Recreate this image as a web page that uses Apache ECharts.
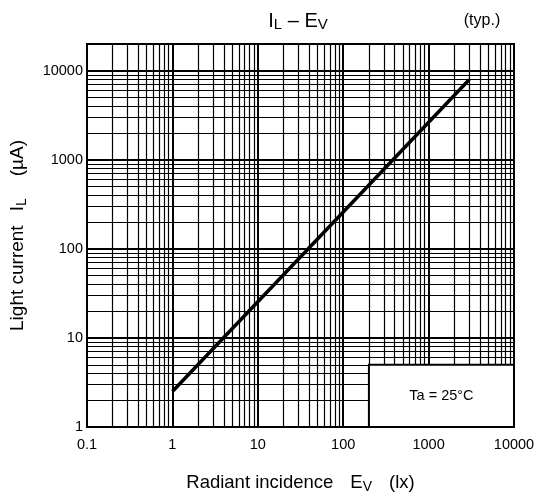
<!DOCTYPE html>
<html><head><meta charset="utf-8">
<script src="https://cdn.jsdelivr.net/npm/echarts@6/dist/echarts.min.js"></script>
<style>html,body{margin:0;padding:0;background:#fff}#c{width:538px;height:499px}</style>
</head><body><div id="c"></div>
<script>
// ---- data ----
const xTickLabels = [0.1, 1, 10, 100, 1000, 10000];
const yTickLabels = [1, 10, 100, 1000, 10000];
const xDecades = [0.1, 1, 10, 100, 1000];
const yDecades = [1, 10, 100, 1000, 10000];
const minorMultiples = [2, 3, 4, 5, 6, 7, 8, 9];
const illuminance = [1, 3000];        // Ev (lx)
const lightCurrent = [2.5, 8000];     // IL (uA)
const noteBoxX = [200, 10000];
const noteBoxY = [1, 5];
const noteText = 'Ta = 25°C';

// ---- build ----
const FONT = "'Liberation Sans', Arial, sans-serif";
const xMinor = [], yMinor = [];
xDecades.forEach(d => minorMultiples.forEach(m => xMinor.push({ xAxis: +(d * m).toPrecision(6) })));
yDecades.forEach(d => minorMultiples.forEach(m => { const v = d * m; if (v < 20000) yMinor.push({ yAxis: v }); }));
const lineData = illuminance.map((x, i) => [x, lightCurrent[i]]);
function fmt(list) {
  return v => {
    for (const t of list) if (Math.abs(Math.log10(v) - Math.log10(t)) < 1e-6) return String(t);
    return '';
  };
}
const chart = echarts.init(document.getElementById('c'), null, { renderer: 'canvas' });
chart.setOption({
  animation: false,
  backgroundColor: '#fff',
  textStyle: { fontFamily: FONT, color: '#000' },
  grid: { left: 87, right: 24, top: 44, bottom: 71, show: true, borderColor: '#000', borderWidth: 2, backgroundColor: '#fff' },
  xAxis: {
    type: 'log', logBase: 10, min: 0.1, max: 10000,
    axisLine: { show: false }, axisTick: { show: false },
    splitLine: { show: true, lineStyle: { color: '#000', width: 2 } },
    axisLabel: { formatter: fmt(xTickLabels), color: '#000', fontSize: 14.5, margin: 10, fontFamily: FONT },
    name: '{n|Radiant incidence}{g| }{n|E}{s|V}{g| }{n|(lx)}',
    nameLocation: 'middle', nameGap: 45,
    nameTextStyle: {
      color: '#000', fontFamily: FONT,
      rich: {
        n: { fontSize: 18.5, lineHeight: 22, fontFamily: FONT, color: '#000' },
        s: { fontSize: 14, lineHeight: 14, verticalAlign: 'bottom', fontFamily: FONT, color: '#000' },
        g: { width: 17, fontSize: 18.5 }
      }
    }
  },
  yAxis: {
    type: 'log', logBase: 10, min: 1, max: 20000,
    axisLine: { show: false }, axisTick: { show: false },
    splitLine: { show: true, lineStyle: { color: '#000', width: 2 } },
    axisLabel: { formatter: fmt(yTickLabels), color: '#000', fontSize: 14.5, margin: 4, fontFamily: FONT },
    name: '{n|Light current}{g| }{n|I}{s|L}{g2| }{n|(µA)}',
    nameLocation: 'middle', nameGap: 58,
    nameTextStyle: {
      color: '#000', fontFamily: FONT,
      rich: {
        n: { fontSize: 19, lineHeight: 22, fontFamily: FONT, color: '#000' },
        s: { fontSize: 14, lineHeight: 14, verticalAlign: 'bottom', fontFamily: FONT, color: '#000' },
        g: { width: 14, fontSize: 19 },
        g2: { width: 22, fontSize: 19 }
      }
    }
  },
  graphic: [
    {
      type: 'text', x: 298, y: 21, z: 10,
      style: {
        text: '{n|I}{s|L}{n| – E}{s|V}', align: 'center', verticalAlign: 'middle',
        rich: {
          n: { fontSize: 20, lineHeight: 22, fontFamily: FONT, fill: '#000' },
          s: { fontSize: 15, lineHeight: 15, verticalAlign: 'bottom', fontFamily: FONT, fill: '#000' }
        }
      }
    },
    {
      type: 'text', x: 482, y: 21, z: 10,
      style: { text: '(typ.)', align: 'center', verticalAlign: 'middle', fontSize: 16, fontFamily: FONT, fill: '#000' }
    }
  ],
  series: [
    {
      name: 'minorGrid', type: 'line', data: [], z: 1, silent: true,
      markLine: {
        silent: true, z: 1, symbol: ['none', 'none'], animation: false,
        label: { show: false },
        lineStyle: { color: '#000', width: 1.2, type: 'solid' },
        emphasis: { disabled: true },
        data: xMinor.concat(yMinor)
      }
    },
    {
      name: 'note', type: 'line', data: [], z: 3, silent: true,
      markArea: {
        silent: true, z: 3,
        itemStyle: { color: '#fff', opacity: 1, borderColor: '#000', borderWidth: 2 },
        label: { show: true, position: 'inside', color: '#000', fontSize: 14.5, fontFamily: FONT, formatter: noteText },
        data: [[{ coord: [noteBoxX[0], noteBoxY[0]] }, { coord: [noteBoxX[1], noteBoxY[1]] }]]
      }
    },
    {
      name: 'IL', type: 'line', z: 4, data: lineData, symbol: 'none', silent: true,
      lineStyle: { color: '#000', width: 3.5 }
    }
  ]
});
</script></body></html>
